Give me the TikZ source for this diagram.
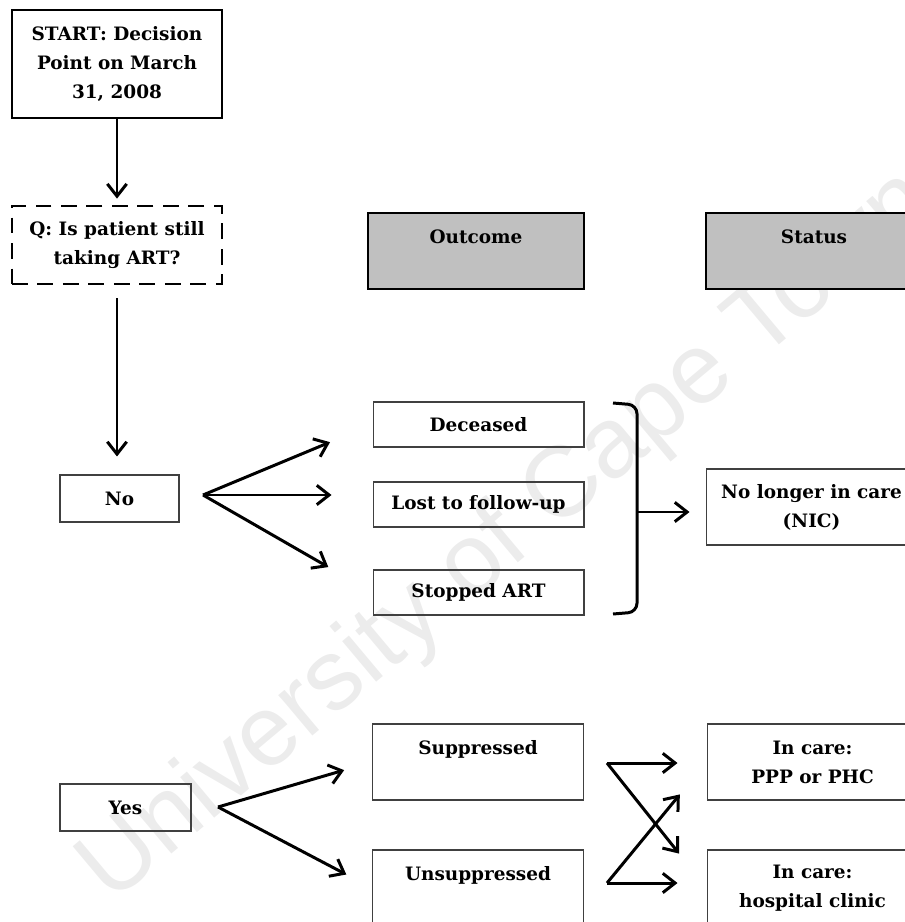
\documentclass[tikz,border=0pt]{standalone}
\usepackage{fontspec}
\setmainfont{DejaVu Serif}
\setsansfont{Liberation Sans}
\usetikzlibrary{arrows.meta}
\definecolor{headgray}{RGB}{192,192,192}
\definecolor{markgray}{RGB}{236,236,236}
\tikzset{
    flowtext/.style={font=\bfseries\fontsize{10.5}{16.5}\selectfont, align=center, inner sep=0pt},
    startbox/.style={flowtext, draw, line width=1.6pt, minimum width=4.2cm, minimum height=2.16cm},
    askbox/.style={flowtext, draw, dash pattern=on 9pt off 5.5pt, line width=1.6pt, minimum width=4.2cm, minimum height=1.56cm},
    headbox/.style={flowtext, draw, fill=headgray, line width=1.6pt, minimum width=4.32cm, minimum height=1.52cm},
    answerbox/.style={flowtext, draw=black!75, line width=0.6pt, minimum height=0.94cm},
    outbox/.style={flowtext, draw=black!75, line width=0.6pt, minimum width=4.22cm, minimum height=0.9cm},
    bigbox/.style={flowtext, draw=black!75, line width=0.6pt, minimum width=4.22cm, minimum height=1.52cm},
    arr/.style={-{Straight Barb[length=7pt,width=11pt]}, line width=1.7pt},
}
\begin{document}
\begin{tikzpicture}[x=0.02cm,y=-0.02cm]
    \useasboundingbox (0,0) rectangle (905,922);
    \clip (0,0) rectangle (905,922);
    \node[markgray, font=\sffamily\fontsize{57}{57}\selectfont, rotate=40] (mark) at (508,538) {University of Cape Town};

    \node[startbox] (start) at (117,64) {START: Decision\\Point on March\\31, 2008};
    \node[askbox] (ask) at (117,245) {Q: Is patient still\\taking ART?};
    \node[headbox] (outcome) at (476,251) {Outcome\\~};
    \node[headbox] (status) at (814,251) {Status\\~};

    \node[answerbox, minimum width=2.38cm] (no) at (119.5,498.5) {No};
    \node[outbox] (dec) at (478.5,424.5) {Deceased};
    \node[outbox] (lost) at (478.5,504.5) {Lost to follow-up};
    \node[outbox] (stop) at (478.5,592.5) {Stopped ART};
    \node[bigbox] (nic) at (811.5,507) {No longer in care\\(NIC)};

    \node[answerbox, minimum width=2.62cm] (yes) at (125.5,807.5) {Yes};
    \node[bigbox] (sup) at (478,762) {Suppressed\\~};
    \node[bigbox] (uns) at (478,888) {Unsuppressed\\~};
    \node[bigbox] (ppp) at (812.5,762) {In care:\\PPP or PHC};
    \node[bigbox] (hosp) at (812.5,888) {In care:\\hospital clinic};

    \coordinate (nofork) at (203,495);
    \coordinate (yesfork) at (218,807);
    \coordinate (brace) at (637,512);
    \coordinate (supout) at (607,763);
    \coordinate (unsout) at (607,883);

    \draw[arr, shorten >=0.12cm] (start) -- (ask);
    \draw[arr, shorten <=0.26cm, shorten >=0.36cm] (ask.south) -- (ask.south |- no.north);

    \draw[arr, shorten >=0.92cm] (nofork) -- (dec.west);
    \draw[arr, shorten >=0.82cm] (nofork) -- (nofork -| lost.west);
    \draw[arr, shorten >=1.02cm] (nofork) -- (stop.west);
    \draw[line width=1.7pt, rounded corners=5pt] (613,403) -- (637,405) -- (637,612) -- (613,614);
    \draw[arr, shorten >=0.32cm] (brace) -- (brace -| nic.west);

    \draw[arr, shorten >=0.58cm] (yesfork) -- (sup.west);
    \draw[arr, shorten >=0.58cm] (yesfork) -- (uns.west);
    \draw[arr, shorten >=0.58cm] (supout) -- (supout -| ppp.west);
    \draw[arr, shorten >=0.88cm] (supout) -- (hosp.west);
    \draw[arr, shorten >=0.84cm] (unsout) -- (ppp.west);
    \draw[arr, shorten >=0.58cm] (unsout) -- (unsout -| hosp.west);
\end{tikzpicture}
\end{document}
